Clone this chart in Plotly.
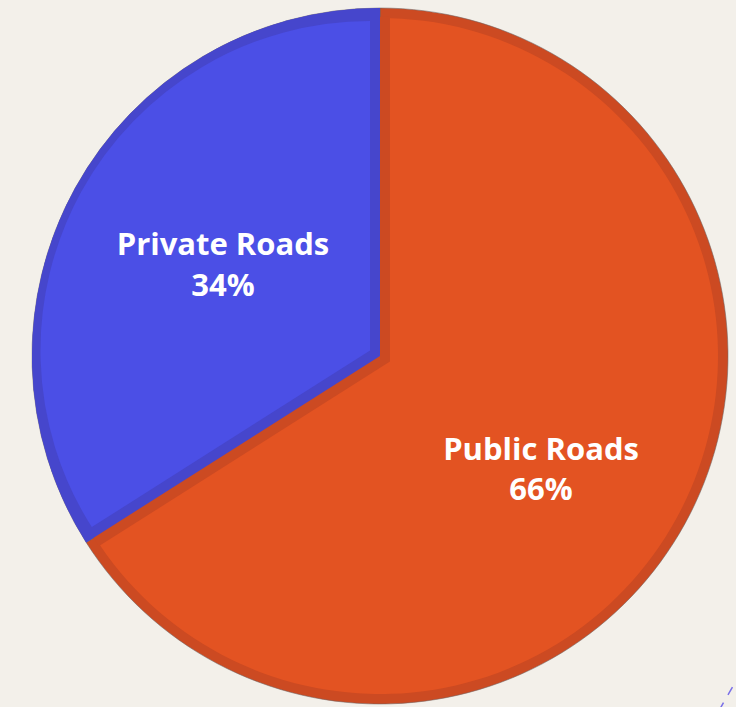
import math
import plotly.graph_objects as go

# ---- data ----
labels = ["Public Roads", "Private Roads"]
values = [66, 34]

# ---- styles ----
light_colors = ["#e35322", "#4b4fe6"]
dark_colors = ["#cc4a22", "#4646cc"]
bg = "#f3f0ea"
TRANSP = "rgba(0,0,0,0)"

W, H = 736, 707
CX, CY, R = 380, 356, 348
BAND = 10


def dom(cx, cy, r):
    x0, x1 = (cx - r) / W, (cx + r) / W
    y0, y1 = 1 - (cy + r) / H, 1 - (cy - r) / H
    clamp = lambda v: min(1.0, max(0.0, v))
    return dict(x=[clamp(x0), clamp(x1)], y=[clamp(y0), clamp(y1)])


common = dict(labels=labels, values=values, sort=False, direction="clockwise",
              rotation=0, textinfo="none", hoverinfo="skip", showlegend=False)

# geometry of second slice (derived from data)
total = sum(values)
frac0 = values[0] / total
ang1 = 2 * math.pi * values[1] / total
mid = 2 * math.pi * (frac0 + values[1] / total / 2)  # clockwise from 12 o'clock
ux, uy = math.sin(mid), -math.cos(mid)  # screen direction of bisector
shift = BAND / math.sin(ang1 / 2)

fig = go.Figure()
# 1. dark full pie
fig.add_trace(go.Pie(**common, domain=dom(CX, CY, R),
                     marker=dict(colors=dark_colors,
                                 line=dict(color="rgba(110,100,100,0.55)", width=1))))
# 2. light orange inner disk
fig.add_trace(go.Pie(**common, domain=dom(CX, CY, R - BAND),
                     marker=dict(colors=[light_colors[0], light_colors[0]], line=dict(width=0))))
# 3. dark orange band next to the blue slice (dilated wedge)
ax, ay = CX - shift * ux, CY - shift * uy
fig.add_trace(go.Pie(**common, domain=dom(ax, ay, 345),
                     marker=dict(colors=[TRANSP, dark_colors[0]], line=dict(width=0))))
# 4. dark blue wedge
fig.add_trace(go.Pie(**common, domain=dom(CX, CY, R),
                     marker=dict(colors=[TRANSP, dark_colors[1]], line=dict(width=0))))
# 5. light blue inset wedge
bx, by = CX + shift * ux, CY + shift * uy
fig.add_trace(go.Pie(**common, domain=dom(bx, by, R - BAND - 8.5),
                     marker=dict(colors=[TRANSP, light_colors[1]], line=dict(width=0))))

# 6. labels (one transparent pie per label, placed to match label positions)
label_font = dict(family="Open Sans", size=31, color="white", weight="bold")
label_domains = [dom(409.6, 395.7, 300), dom(385.5, 353, R)]
for i, d in enumerate(label_domains):
    tt = ["" for _ in labels]
    tt[i] = "%{label}<br>%{percent}"
    fig.add_trace(go.Pie(labels=labels, values=values, sort=False, direction="clockwise",
                         rotation=0, hoverinfo="skip", showlegend=False, domain=d,
                         marker=dict(colors=[TRANSP, TRANSP], line=dict(width=0)),
                         textinfo="label+percent", textposition="inside",
                         texttemplate=tt, insidetextorientation="horizontal",
                         textfont=label_font))

fig.update_layout(
    width=W, height=H, margin=dict(l=0, r=0, t=0, b=0),
    paper_bgcolor=bg, plot_bgcolor=bg,
    shapes=[dict(type="line", xref="paper", yref="paper",
                 x0=719 / W, y0=-0.005, x1=740 / W, y1=1 - 674 / H,
                 line=dict(color="#7a70e8", width=1.5, dash="dash"))],
)

fig.write_html("out.html")
